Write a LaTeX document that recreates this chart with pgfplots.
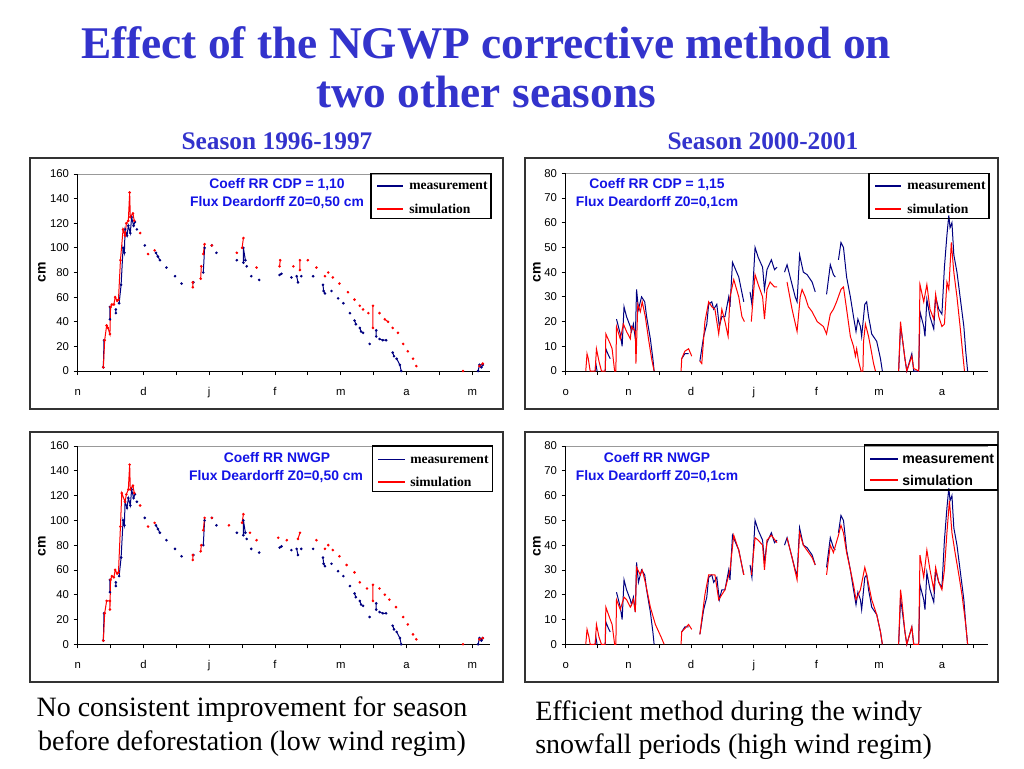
\documentclass[border=0pt]{standalone}
\usepackage{fontspec}
\setmainfont{Liberation Serif}
\setsansfont{Liberation Sans}
\usepackage{pgfplots}
\pgfplotsset{compat=1.18}
\usepackage{pgfplotstable}

\definecolor{titleblue}{HTML}{3333CC}
\definecolor{annblue}{HTML}{1414E6}
\definecolor{meas}{HTML}{000080}
\definecolor{sim}{HTML}{FF0000}

% season 1996-1997, x = months after 1 Nov
\pgfplotstableread{
t v
0.39 3
0.40 25
nan nan
0.49 52
0.49 42
nan nan
0.58 47
0.58 50
nan nan
0.63 55
0.66 70
0.69 100
0.71 96
0.72 115
0.75 110
0.77 118
0.80 112
0.82 125
0.85 118
0.87 121
nan nan
0.90 115
nan nan
1.02 102
nan nan
1.19 96
1.22 93
1.25 90
nan nan
1.35 84
nan nan
1.48 77
nan nan
1.58 71
nan nan
1.76 72
nan nan
1.91 80
1.93 100
nan nan
2.04 102
nan nan
2.11 96
nan nan
2.42 90
nan nan
2.52 88
2.52 100
2.55 90
nan nan
2.57 85
nan nan
2.64 77
nan nan
2.76 74
nan nan
3.07 78
3.10 79
nan nan
3.25 76
nan nan
3.33 77
3.35 72
nan nan
3.40 77
nan nan
3.58 77
nan nan
3.73 70
3.74 65
3.76 63
nan nan
3.86 65
nan nan
3.96 59
nan nan
4.04 55
nan nan
4.14 47
nan nan
4.21 41
4.23 38
nan nan
4.29 35
4.31 32
nan nan
4.34 31
nan nan
4.44 22
nan nan
4.54 33
4.54 28
nan nan
4.59 26
4.64 25
4.69 25
nan nan
4.79 15
4.81 12
nan nan
4.85 10
4.90 5
4.92 0
nan nan
6.09 0
6.11 5
6.14 3
6.16 5
}\measA

\pgfplotstableread{
t v
0.39 3
0.41 25
0.44 37
0.46 35
0.49 30
0.50 52
0.52 54
0.55 54
0.57 60
0.60 57
0.62 58
0.65 90
0.69 115
0.72 110
0.74 120
0.77 122
0.79 145
0.80 125
0.84 128
0.86 122
nan nan
0.95 112
nan nan
1.07 95
nan nan
1.17 98
nan nan
1.75 68
1.75 72
nan nan
1.87 75
1.88 85
nan nan
1.91 95
1.93 103
nan nan
2.04 102
nan nan
2.42 96
nan nan
2.50 100
2.52 108
nan nan
2.72 84
nan nan
3.07 85
3.08 90
nan nan
3.28 85
nan nan
3.38 82
3.38 90
nan nan
3.50 90
nan nan
3.63 84
nan nan
3.76 77
nan nan
3.81 80
nan nan
3.88 76
nan nan
3.98 71
nan nan
4.11 64
nan nan
4.21 58
nan nan
4.29 53
nan nan
4.34 50
nan nan
4.42 47
nan nan
4.49 35
4.49 53
nan nan
4.59 47
nan nan
4.67 42
4.72 40
nan nan
4.79 35
nan nan
4.87 31
nan nan
4.95 22
nan nan
5.02 16
nan nan
5.10 10
nan nan
5.15 4
nan nan
5.86 0
nan nan
6.11 4
6.16 6
}\simA

\pgfplotstableread{
t v
0.39 3
0.41 25
0.44 35
0.49 35
0.49 28
0.50 52
0.52 55
0.55 54
0.57 60
0.60 57
0.62 58
0.65 95
0.67 122
0.72 115
0.74 121
0.77 125
0.79 145
0.80 125
0.84 128
0.86 122
nan nan
0.95 112
nan nan
1.07 95
nan nan
1.17 98
nan nan
1.75 68
1.75 72
nan nan
1.87 75
1.88 80
nan nan
1.91 92
1.93 102
nan nan
2.04 102
nan nan
2.30 96
nan nan
2.50 98
2.52 105
nan nan
2.62 90
nan nan
2.72 84
nan nan
3.05 86
nan nan
3.18 84
nan nan
3.35 85
3.38 90
nan nan
3.63 84
nan nan
3.76 77
nan nan
3.81 80
nan nan
3.88 76
nan nan
3.98 71
nan nan
4.09 64
nan nan
4.21 58
nan nan
4.29 50
nan nan
4.40 45
nan nan
4.49 35
4.49 48
nan nan
4.59 45
nan nan
4.67 40
nan nan
4.74 36
nan nan
4.84 30
nan nan
4.95 22
nan nan
5.02 16
nan nan
5.10 8
nan nan
5.15 4
nan nan
5.86 0
nan nan
6.11 4
6.16 5
}\simC

% season 2000-2001, x = months after 1 Oct
\pgfplotstableread{
t v
0.47 0
0.48 3
0.50 0
nan nan
0.63 0
0.64 9
0.68 6.5
0.71 5
nan nan
0.81 21
0.87 15
0.90 10
0.93 26
0.97 22
1.03 18
1.05 16
1.08 19
1.11 13
1.13 33
1.16 25
1.21 30
1.26 28
1.29 22
1.35 13
1.39 5
1.41 0
nan nan
1.85 5
1.90 7
1.96 7
nan nan
2.14 4
2.20 14
2.25 19
2.28 27
2.33 28
2.36 25
2.41 27
2.45 18
2.49 22
2.54 22
2.60 30
2.62 26
2.66 44
2.76 38
2.84 28
nan nan
2.94 32
2.97 27
3.02 50
3.07 46
3.14 42
3.17 33
3.21 41
3.28 45
3.33 41
3.37 42
nan nan
3.49 40
3.53 43
3.58 38
3.66 30
3.69 28
3.73 47
3.79 40
3.85 39
3.93 36
3.98 32
nan nan
4.16 31
4.22 43
4.27 39
4.30 38
nan nan
4.35 45
4.39 52
4.43 50
4.48 38
4.54 30
4.59 22
4.63 16
4.66 21
4.70 18
4.72 14
4.77 27
4.80 28
4.83 22
4.86 18
4.88 15
4.96 12
5.02 5
5.05 0
nan nan
5.31 0
5.34 18
5.36 15
5.41 5
5.44 0
5.52 7
5.55 0
5.63 0
5.65 24
5.71 18
5.73 14
5.76 29
5.81 22
5.87 17
5.90 30
5.95 25
6.00 23
6.04 42
6.08 55
6.11 63
6.13 58
6.16 60
6.19 47
6.24 40
6.29 30
6.35 18
6.38 8
6.41 0
}\measB

\pgfplotstableread{
t v
0.32 0
0.34 7
0.36 5
0.39 0
0.47 0
0.49 9
0.53 4
0.57 0
0.63 0
0.64 15
0.71 11
0.74 9
0.78 0
0.80 0
0.81 18
0.87 13
0.92 19
0.97 16
1.03 13
1.05 18
1.11 16
1.12 3
1.15 27
1.19 24
1.22 28
1.27 22
1.32 13
1.37 5
1.41 0
nan nan
1.84 0
1.85 5
1.90 8
1.96 9
2.01 6
nan nan
2.14 4
2.17 3
2.22 20
2.28 28
2.33 26
2.38 25
2.44 15
2.49 25
2.54 20
2.59 14
2.62 30
2.68 37
2.76 30
2.81 22
2.85 20
nan nan
2.96 20
2.99 30
3.02 39
3.07 35
3.14 30
3.17 21
3.21 33
3.26 36
3.33 34
3.37 34
nan nan
3.53 36
3.61 25
3.69 16
3.74 30
3.77 33
3.82 30
3.87 26
3.93 24
4.01 20
4.11 18
4.16 15
4.22 23
4.27 25
4.32 28
4.39 33
4.43 34
4.48 25
4.54 14
4.59 10
4.62 6
4.64 9
4.67 4
4.71 0
4.74 0
4.75 12
4.78 19
4.83 14
4.86 10
4.91 3
4.94 0
nan nan
5.31 0
5.34 20
5.36 15
5.41 5
5.44 0
5.52 6
5.55 1
5.63 0
5.65 35
5.71 28
5.76 35
5.81 25
5.87 21
5.90 31
5.95 22
6.00 18
6.04 19
6.08 36
6.11 33
6.15 52
6.19 40
6.24 30
6.29 18
6.34 5
6.36 0
}\simB

\pgfplotstableread{
t v
0.32 0
0.34 6
0.37 3
0.39 0
0.47 0
0.49 8
0.53 3
0.57 0
0.63 0
0.64 15
0.71 10
0.74 8
0.78 0
0.80 0
0.81 18
0.87 14
0.93 19
0.97 18
1.03 15
1.05 16
1.08 18
1.11 13
1.13 31
1.19 28
1.22 30
1.27 25
1.35 15
1.43 8
1.52 3
1.57 0
nan nan
1.84 0
1.85 5
1.96 8
2.01 6
nan nan
2.14 4
2.22 20
2.28 28
2.38 28
2.44 18
2.54 22
2.62 30
2.68 44
2.76 38
2.84 28
nan nan
2.96 28
3.02 43
3.07 42
3.14 40
3.17 30
3.21 42
3.28 44
3.37 41
nan nan
3.53 43
3.61 35
3.69 26
3.73 45
3.79 40
3.93 35
3.98 32
nan nan
4.16 28
4.22 40
4.27 37
4.35 44
4.39 48
4.43 45
4.48 37
4.54 30
4.59 24
4.63 18
4.70 22
4.77 31
4.80 28
4.88 18
4.96 12
5.02 5
5.05 0
nan nan
5.31 0
5.34 22
5.36 18
5.41 5
5.44 0
5.52 7
5.55 0
5.63 0
5.65 36
5.71 27
5.76 38
5.81 30
5.87 22
5.90 31
5.95 25
6.00 22
6.04 30
6.08 45
6.12 58
6.16 45
6.21 37
6.27 28
6.32 20
6.38 8
6.41 0
}\simD

\pgfplotsset{
  panel/.style={
    scale only axis,
    axis x line*=bottom, axis y line*=left,
    axis line style={black, line width=0.7pt},
    tick style={black, line width=0.6pt},
    tick align=outside,
    major tick length=3pt, minor tick length=3pt,
    xmin=0, ymin=0,
    ticklabel style={font=\fontsize{8.5}{10}\sffamily},
    xticklabel style={text height=1.6ex, text depth=0.3ex, yshift=-4.5pt},
    /pgf/number format/assume math mode=true,
    unbounded coords=jump,
    clip=false,
  },
  leftpanel/.style={panel, width=309.2pt, xmax=6.27, ymax=160,
    ytick={0,20,...,160}, xtick={0,...,6}, xticklabels={n,d,j,f,m,a,m},
    minor xtick={0.5,1.5,...,5.5}},
  rightpanel/.style={panel, width=316.95pt, xmax=6.74, ymax=80,
    ytick={0,10,...,80}, xtick={0,...,6}, xticklabels={o,n,d,j,f,m,a},
    minor xtick={0.5,1.5,...,6.5}},
  measdot/.style={color=meas, line width=0.75pt, mark=*, mark size=0.55pt},
  simdot/.style={color=sim, line width=0.75pt, mark=*, mark size=0.55pt},
  measline/.style={color=meas, line width=0.75pt, mark=none},
  simline/.style={color=sim, line width=0.75pt, mark=none},
}

\begin{document}
\begin{tikzpicture}
\begin{scope}[x=0.75pt,y=-0.75pt]
  \fill[white] (0,0) rectangle (1024,768);
  \path[use as bounding box] (0,0) rectangle (1024,768);
  % frames
  \draw[black!80, line width=1.4pt] (30,158) rectangle (503,409);
  \draw[black!80, line width=1.4pt] (525,158) rectangle (998,409);
  \draw[black!80, line width=1.4pt] (30,432) rectangle (503,682);
  \draw[black!80, line width=1.4pt] (525,432) rectangle (998,682);
\end{scope}

\begin{axis}[leftpanel, height=147.75pt, at={(58.28pt,-278.25pt)}, anchor=south west]
  \draw[black!40] (rel axis cs:0,1) -- (rel axis cs:1,1);
  \addplot[measdot] table {\measA};
  \addplot[simdot] table {\simA};
\end{axis}

\begin{axis}[rightpanel, height=148.3pt, at={(424.28pt,-278.25pt)}, anchor=south west]
  \draw[black!40] (rel axis cs:0,1) -- (rel axis cs:1,1);
  \addplot[measline] table {\measB};
  \addplot[simline] table {\simB};
\end{axis}

\begin{axis}[leftpanel, height=148.7pt, at={(58.28pt,-483.2pt)}, anchor=south west]
  \draw[black!40] (rel axis cs:0,1) -- (rel axis cs:1,1);
  \addplot[measdot] table {\measA};
  \addplot[simdot] table {\simC};
\end{axis}

\begin{axis}[rightpanel, height=148.7pt, at={(424.28pt,-483.2pt)}, anchor=south west]
  \draw[black!40] (rel axis cs:0,1) -- (rel axis cs:1,1);
  \addplot[measline] table {\measB};
  \addplot[simline] table {\simD};
\end{axis}

\begin{scope}[x=0.75pt,y=-0.75pt]
  % titles
  \node[anchor=base, text=titleblue, font=\fontsize{34}{40}\selectfont\bfseries] at (486,58) {Effect of the NGWP corrective method on};
  \node[anchor=base, text=titleblue, font=\fontsize{34}{40}\selectfont\bfseries] at (486,107) {two other seasons};
  \node[anchor=base, text=titleblue, font=\fontsize{19}{22}\selectfont\bfseries] at (277,149) {Season 1996-1997};
  \node[anchor=base, text=titleblue, font=\fontsize{19}{22}\selectfont\bfseries] at (763,149) {Season 2000-2001};
  % y labels
  \foreach \px/\py in {42/272, 537/272, 42/546, 537/546}
    \node[rotate=90, font=\fontsize{10.5}{12}\selectfont\sffamily\bfseries] at (\px,\py) {cm};
  % annotations
  \begin{scope}[every node/.style={text=annblue, font=\fontsize{10.4}{12}\selectfont\sffamily\bfseries}]
    \node at (277,185) {Coeff RR CDP = 1,10};
    \node at (277,203) {Flux Deardorff Z0=0,50 cm};
    \node at (657,185) {Coeff RR CDP = 1,15};
    \node at (657,203) {Flux Deardorff Z0=0,1cm};
    \node at (277,458) {Coeff RR NWGP};
    \node at (276,477) {Flux Deardorff Z0=0,50 cm};
    \node at (657,458) {Coeff RR NWGP};
    \node at (657,477) {Flux Deardorff Z0=0,1cm};
  \end{scope}
  % legends
  \begin{scope}[every node/.style={anchor=west, inner sep=0pt, font=\fontsize{10.2}{12}\selectfont\bfseries}]
    \draw[black, line width=0.9pt] (371,173.3) rectangle (491,218.3);
    \draw[meas, line width=1pt] (377,186) -- (403,186);
    \draw[sim, line width=1pt] (377,209) -- (403,209);
    \node at (409,186) {measurement};
    \node at (409,209) {simulation};
    \draw[black, line width=0.9pt] (869,173.3) rectangle (989,218.3);
    \draw[meas, line width=1pt] (875,186) -- (901,186);
    \draw[sim, line width=1pt] (875,209) -- (901,209);
    \node at (907,186) {measurement};
    \node at (907,209) {simulation};
    \draw[black, line width=0.9pt] (372.7,446) rectangle (492.7,491.7);
    \draw[meas, line width=1pt] (378,459.5) -- (405,459.5);
    \draw[sim, line width=1pt] (378,482) -- (405,482);
    \node at (410,459.5) {measurement};
    \node at (410,482) {simulation};
  \end{scope}
  \begin{scope}[every node/.style={anchor=west, inner sep=0pt, font=\fontsize{10.6}{12}\selectfont\sffamily\bfseries}]
    \draw[black, line width=0.9pt] (864.3,445) rectangle (997.7,490);
    \draw[meas, line width=1pt] (870,459) -- (898,459);
    \draw[sim, line width=1pt] (870,480) -- (898,480);
    \node at (902,459) {measurement};
    \node at (902,480) {simulation};
  \end{scope}
  % captions
  \begin{scope}[every node/.style={inner sep=0pt, font=\fontsize{21}{24}\selectfont}]
    \node[anchor=base] at (252,716) {No consistent improvement for season};
    \node[anchor=base] at (252,750) {before deforestation (low wind regim)};
    \node[anchor=base west] at (535,720) {Efficient method during the windy};
    \node[anchor=base west] at (535,753) {snowfall periods (high wind regim)};
  \end{scope}
\end{scope}
\end{tikzpicture}
\end{document}
